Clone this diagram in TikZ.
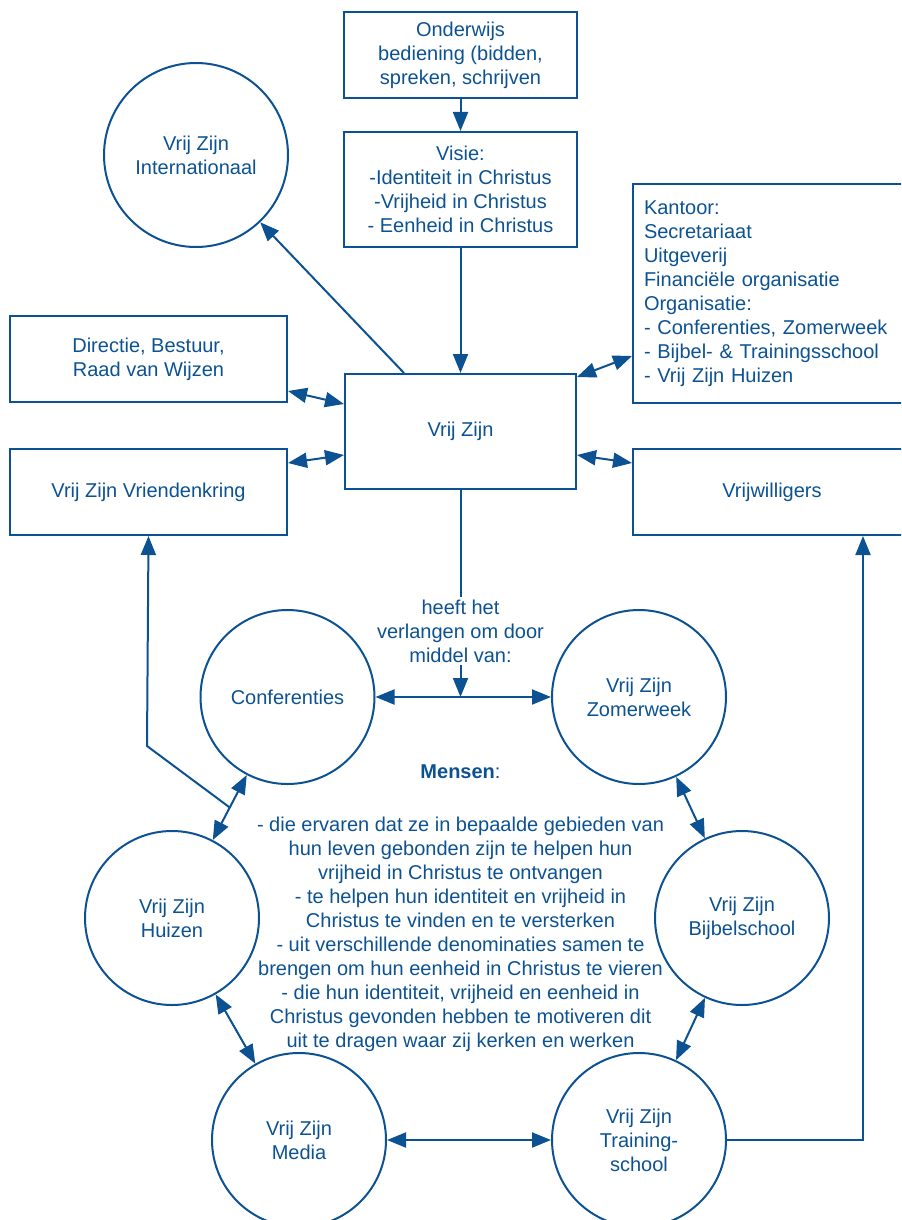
\documentclass[tikz,border=0pt]{standalone}
\usepackage{fontspec}
\setmainfont{Liberation Sans}
\usetikzlibrary{arrows.meta,calc}
\definecolor{vzblauw}{RGB}{12,82,146}
\tikzset{
  blok/.style={draw, rectangle, align=center, inner sep=0pt},
  cirkel/.style={draw, circle, minimum size=87pt, inner sep=0pt, align=center},
  pijl/.style={-{Triangle[length=9.5pt,width=7.5pt]}},
  dubbel/.style={{Triangle[length=9.5pt,width=7.5pt]}-{Triangle[length=9.5pt,width=7.5pt]}},
}
\begin{document}
\begin{tikzpicture}[x=0.5pt, y=-0.5pt, color=vzblauw, line width=1pt,
    font=\fontsize{10}{12}\selectfont]
  \useasboundingbox (0,0) rectangle (901,1220);
  \clip (0,0) rectangle (901,1220);
  % bovenste blokken
  \node[blok, minimum width=116.5pt, minimum height=43pt] (onderwijs) at (460.5,55)
    {Onderwijs\\bediening (bidden,\\spreken, schrijven};
  \node[blok, minimum width=116.5pt, minimum height=57.5pt] (visie) at (460.5,189.5)
    {Visie:\\-Identiteit in Christus\\-Vrijheid in Christus\\- Eenheid in Christus};
  \node[blok, align=left, text width=128pt, inner xsep=5.5pt, minimum height=109.5pt] (kantoor) at (772,293.5)
    {Kantoor:\\Secretariaat\\Uitgeverij\\Financiële organisatie\\Organisatie:\\- Conferenties, Zomerweek\\- Bijbel- \& Trainingsschool\\- Vrij Zijn Huizen};
  \node[blok, minimum width=138.5pt, minimum height=43pt] (directie) at (148.5,359)
    {Directie, Bestuur,\\Raad van Wijzen};
  \node[blok, minimum width=115.5pt, minimum height=57.5pt] (vrijzijn) at (460.5,431.5) {Vrij Zijn};
  \node[blok, minimum width=138.5pt, minimum height=43pt] (vriendenkring) at (148.5,492)
    {Vrij Zijn Vriendenkring};
  \node[blok, minimum width=139pt, minimum height=43pt] (vrijwilligers) at (772,492) {Vrijwilligers};
  \node[cirkel, minimum size=92pt] (internationaal) at (196,155) {Vrij Zijn\\Internationaal};
  % cirkels
  \node[cirkel] (conferenties) at (287.5,697) {Conferenties};
  \node[cirkel] (zomerweek) at (639,697) {Vrij Zijn\\Zomerweek};
  \node[cirkel] (huizen) at (172,918) {Vrij Zijn\\Huizen};
  \node[cirkel] (bijbelschool) at (742,918) {Vrij Zijn\\Bijbelschool};
  \node[cirkel] (media) at (299,1140) {Vrij Zijn\\Media};
  \node[cirkel] (training) at (639,1140) {Vrij Zijn\\Training-\\school};
  \node[align=center, inner sep=1pt] (verlangen) at (460.5,631)
    {heeft het\\verlangen om door\\middel van:};
  \node[align=center] (mensen) at (460.5,908)
    {\textbf{Mensen}:\\[14.5pt]
     - die ervaren dat ze in bepaalde gebieden van\\
     hun leven gebonden zijn te helpen hun\\
     vrijheid in Christus te ontvangen\\
     - te helpen hun identiteit en vrijheid in\\
     Christus te vinden en te versterken\\
     - uit verschillende denominaties samen te\\
     brengen om hun eenheid in Christus te vieren\\
     - die hun identiteit, vrijheid en eenheid in\\
     Christus gevonden hebben te motiveren dit\\
     uit te dragen waar zij kerken en werken};
  \coordinate (cz) at (vrijzijn.south |- conferenties.east);
  \coordinate (ch) at ($(conferenties)!0.5!(huizen)$);
  \coordinate (knikL) at (147,746);
  \begin{scope}[pijl]
    \draw (onderwijs) to (visie);
    \draw (visie) to (vrijzijn);
    \draw ($(vrijzijn.north west)+(60,0)$) to (internationaal);
    \draw[-] (vrijzijn) to (verlangen);
    \draw (verlangen) to (cz);
    \draw (ch) -- (knikL) -- (vriendenkring.south);
    \draw (training.east) -| ($(vrijwilligers.south)+(91,0)$);
  \end{scope}
  \begin{scope}[dubbel]
    \draw ($(directie.south east)+(0,-12)$) to ($(vrijzijn.north west)+(0,31)$);
    \draw ($(vriendenkring.north east)+(0,15)$) to ($(vrijzijn.south west)+(0,-35)$);
    \draw ($(vrijzijn.north east)+(0,4)$) to ($(kantoor.south west)+(0,-48)$);
    \draw ($(vrijzijn.south east)+(0,-35)$) to ($(vrijwilligers.north west)+(0,15)$);
    \draw (conferenties) to (zomerweek);
    \draw (conferenties) to (huizen);
    \draw (zomerweek) to (bijbelschool);
    \draw (huizen) to (media);
    \draw (bijbelschool) to (training);
    \draw (media) to (training);
  \end{scope}
\end{tikzpicture}
\end{document}
